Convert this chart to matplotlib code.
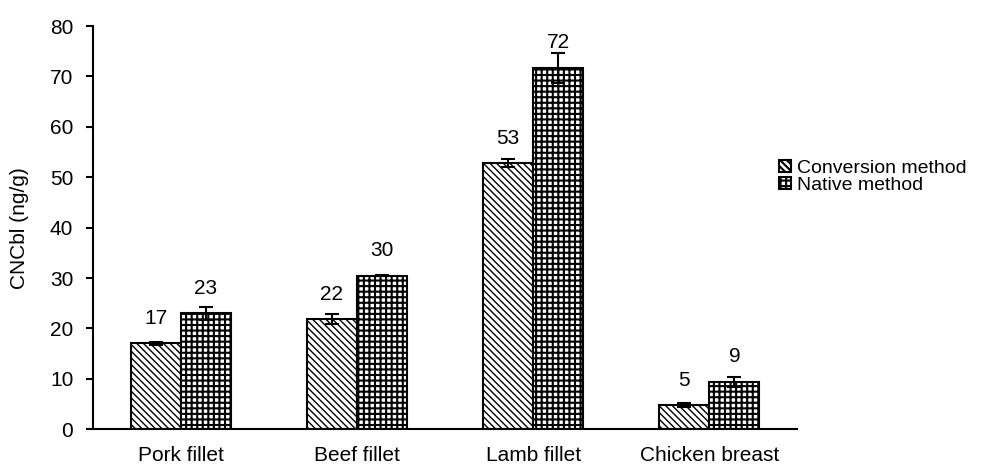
import numpy as np
import matplotlib
matplotlib.use('Agg')
import matplotlib.pyplot as plt

plt.rcParams['font.family'] = ['Liberation Sans', 'DejaVu Sans']

categories = ['Pork fillet', 'Beef fillet', 'Lamb fillet', 'Chicken breast']
conversion = [17.1, 21.8, 52.8, 4.8]
conversion_err = [0.3, 1.0, 0.8, 0.4]
native = [23.0, 30.5, 71.7, 9.4]
native_err = [1.3, 0.1, 2.9, 1.0]

fs = 15

fig = plt.figure(figsize=(10.08, 4.66), dpi=100)
ax = fig.add_axes([0.092, 0.079, 0.699, 0.865])

x = np.arange(len(categories))
w = 0.285
err_kw = dict(ecolor='black', elinewidth=1.5, capsize=5, capthick=1.5)

plt.rcParams['hatch.linewidth'] = 1.0
b1 = ax.bar(x - w / 2, conversion, w, yerr=conversion_err, color='white',
            edgecolor='black', linewidth=1.5, hatch='\\\\\\\\\\',
            label='Conversion method', error_kw=err_kw)
plt.rcParams['hatch.linewidth'] = 1.5
b2 = ax.bar(x + w / 2, native, w, yerr=native_err, color='white',
            edgecolor='black', linewidth=1.5, hatch='+++',
            label='Native method', error_kw=err_kw)
for p in b1:
    if hasattr(p, 'set_hatch_linewidth'):
        p.set_hatch_linewidth(1.0)
for p in b2:
    if hasattr(p, 'set_hatch_linewidth'):
        p.set_hatch_linewidth(1.5)

for bars, vals in [(b1, conversion), (b2, native)]:
    for bar, v in zip(bars, vals):
        ax.annotate(f'{v:.0f}', (bar.get_x() + bar.get_width() / 2, v),
                    xytext=(0, 18), textcoords='offset points',
                    ha='center', va='center', fontsize=fs)

ax.set_xlim(-0.5, 3.5)
ax.set_ylim(0, 80)
ax.set_yticks(range(0, 81, 10))
ax.set_xticks(x)
ax.set_xticklabels(categories)
ax.tick_params(axis='x', length=0, labelsize=fs, pad=12)
ax.tick_params(axis='y', length=5, width=1.5, labelsize=fs, pad=9)
ax.set_ylabel('CNCbl (ng/g)', fontsize=fs)
ax.yaxis.set_label_coords(-0.09, 0.5)
ax.spines['top'].set_visible(False)
ax.spines['right'].set_visible(False)
ax.spines['left'].set_linewidth(1.5)
ax.spines['bottom'].set_linewidth(1.5)

fig.legend(loc='center left', bbox_to_anchor=(0.773, 0.621), frameon=False,
           fontsize=14, handlelength=0.6, handleheight=0.6, handletextpad=0.3,
           labelspacing=0.0, borderaxespad=0, borderpad=0)

fig.savefig('out.png', dpi=100)
